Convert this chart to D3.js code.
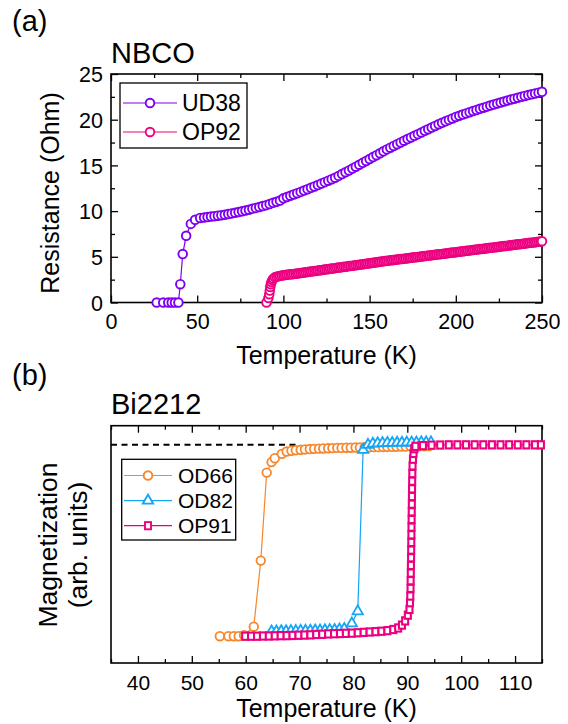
<!DOCTYPE html>
<html>
<head>
<meta charset="utf-8">
<script src="https://cdn.jsdelivr.net/npm/d3@7"></script>
<style>
  body { margin: 0; background: #fff; }
  svg text { font-family: "Liberation Sans", Arial, sans-serif; fill: #000; }
</style>
</head>
<body>
<div id="chart"></div>
<script>
// ---- Panel (a): NBCO resistance, [T (K), R (Ohm)]
const ud38 = [
  [26.5, 0], [30.3, 0], [33.2, 0], [35.2, 0], [37.1, 0], [39.1, 0],
  [40.2, 2.0], [41.6, 5.3], [43.6, 7.3], [46.3, 8.6], [48.8, 9.05], [51.7, 9.25],
  [54, 9.3], [56, 9.35], [58, 9.4], [60, 9.45], [62, 9.5], [64, 9.55], [66, 9.6],
  [68, 9.68], [70, 9.75], [72, 9.82], [74, 9.9], [76, 9.98], [78, 10.06], [80, 10.15],
  [82, 10.25], [84, 10.35], [86, 10.45], [88, 10.55], [90, 10.65], [92, 10.77],
  [94, 10.9], [96, 11.02], [98, 11.15], [100, 11.4], [102, 11.54], [104, 11.68],
  [106, 11.82], [108, 11.96], [110, 12.1], [112, 12.25], [114, 12.4], [116, 12.55],
  [118, 12.7], [120, 12.85], [122, 13.01], [124, 13.17], [126, 13.33], [128, 13.49],
  [130, 13.65], [132, 13.85], [134, 14.05], [136, 14.25], [138, 14.45], [140, 14.65],
  [142, 14.86], [144, 15.07], [146, 15.28], [148, 15.49], [150, 15.7], [152, 15.91],
  [154, 16.12], [156, 16.33], [158, 16.54], [160, 16.75], [162, 16.94], [164, 17.13],
  [166, 17.32], [168, 17.51], [170, 17.7], [172, 17.88], [174, 18.06], [176, 18.24],
  [178, 18.42], [180, 18.6], [182, 18.78], [184, 18.96], [186, 19.14], [188, 19.32],
  [190, 19.5], [192, 19.66], [194, 19.82], [196, 19.98], [198, 20.14], [200, 20.3],
  [202, 20.43], [204, 20.56], [206, 20.69], [208, 20.82], [210, 20.95], [212, 21.07],
  [214, 21.19], [216, 21.31], [218, 21.43], [220, 21.55], [222, 21.66], [224, 21.77],
  [226, 21.88], [228, 21.99], [230, 22.1], [232, 22.2], [234, 22.3], [236, 22.4],
  [238, 22.5], [240, 22.6], [242, 22.69], [244, 22.78], [246, 22.87], [248, 22.96],
  [250, 23.05],
];

const op92 = [
  [90.2, 0], [91.3, 0.5], [91.8, 0.9], [92.1, 1.3], [92.4, 1.7], [92.7, 2.0],
  [93.1, 2.25], [93.6, 2.45], [94.2, 2.6],
  [95, 2.75], [96, 2.82], [97, 2.87], [98, 2.91], [99, 2.95], [100, 2.98],
  [101, 3.0], [102, 3.03], [103, 3.05], [104, 3.08], [105, 3.1], [106, 3.13],
  [107, 3.15], [108, 3.18], [109, 3.2], [110, 3.23], [111, 3.25], [112, 3.28],
  [113, 3.3], [114, 3.33], [115, 3.36], [116, 3.38], [117, 3.41], [118, 3.44],
  [119, 3.46], [120, 3.49], [121, 3.52], [122, 3.54], [123, 3.57], [124, 3.6],
  [125, 3.63], [126, 3.65], [127, 3.68], [128, 3.71], [129, 3.73], [130, 3.76],
  [131, 3.79], [132, 3.82], [133, 3.84], [134, 3.87], [135, 3.9], [136, 3.92],
  [137, 3.95], [138, 3.98], [139, 4.0], [140, 4.03], [141, 4.06], [142, 4.08],
  [143, 4.11], [144, 4.14], [145, 4.16], [146, 4.19], [147, 4.22], [148, 4.24],
  [149, 4.27], [150, 4.3], [151, 4.32], [152, 4.35], [153, 4.38], [154, 4.4],
  [155, 4.43], [156, 4.46], [157, 4.48], [158, 4.51], [159, 4.53], [160, 4.56],
  [161, 4.58], [162, 4.61], [163, 4.63], [164, 4.65], [165, 4.68], [166, 4.7],
  [167, 4.73], [168, 4.75], [169, 4.77], [170, 4.8], [171, 4.82], [172, 4.84],
  [173, 4.87], [174, 4.89], [175, 4.92], [176, 4.94], [177, 4.96], [178, 4.99],
  [179, 5.01], [180, 5.03], [181, 5.06], [182, 5.08], [183, 5.1], [184, 5.13],
  [185, 5.15], [186, 5.18], [187, 5.2], [188, 5.22], [189, 5.25], [190, 5.27],
  [191, 5.29], [192, 5.32], [193, 5.34], [194, 5.36], [195, 5.39], [196, 5.41],
  [197, 5.44], [198, 5.46], [199, 5.48], [200, 5.51], [201, 5.53], [202, 5.55],
  [203, 5.58], [204, 5.6], [205, 5.62], [206, 5.65], [207, 5.67], [208, 5.7],
  [209, 5.72], [210, 5.74], [211, 5.77], [212, 5.79], [213, 5.81], [214, 5.84],
  [215, 5.86], [216, 5.89], [217, 5.91], [218, 5.93], [219, 5.96], [220, 5.98],
  [221, 6.0], [222, 6.03], [223, 6.05], [224, 6.08], [225, 6.1], [226, 6.12],
  [227, 6.15], [228, 6.17], [229, 6.19], [230, 6.22], [231, 6.24], [232, 6.27],
  [233, 6.29], [234, 6.31], [235, 6.34], [236, 6.36], [237, 6.38], [238, 6.41],
  [239, 6.43], [240, 6.46], [241, 6.48], [242, 6.5], [243, 6.53], [244, 6.55],
  [245, 6.57], [246, 6.6], [247, 6.62], [248, 6.65], [249, 6.67], [250, 6.7],
];

// ---- Panel (b): Bi2212 magnetization, [T (K), M (normalised)]
const od66 = [
  [55.2, -1.0], [56.8, -1.0], [57.8, -1.0], [58.7, -1.0], [59.7, -0.995],
  [61.5, -0.95], [62.8, -0.605], [63.9, -0.145], [64.8, -0.09], [65.4, -0.07],
  [66.7, -0.047], [67.6, -0.035], [68.5, -0.031], [69.3, -0.028], [70.2, -0.026],
  [71.0, -0.024], [71.9, -0.022], [72.7, -0.021], [73.6, -0.02], [74.4, -0.019],
  [75.3, -0.018], [76.1, -0.017], [77.0, -0.016], [77.8, -0.016], [78.7, -0.015],
  [79.5, -0.015], [80.4, -0.014], [81.2, -0.014], [82.1, -0.013], [82.9, -0.013],
  [83.8, -0.012], [84.6, -0.012], [85.5, -0.011], [86.3, -0.011], [87.2, -0.01],
  [88.0, -0.01], [88.9, -0.009], [89.7, -0.009], [90.6, -0.008], [91.4, -0.008],
  [92.3, -0.007], [93.1, -0.007], [94.0, -0.006],
];

const od82 = [
  [64.8, -0.975], [65.7, -0.975], [66.6, -0.974], [67.5, -0.974], [68.4, -0.973],
  [69.3, -0.973], [70.2, -0.972], [71.1, -0.972], [72.0, -0.971], [72.9, -0.97],
  [73.8, -0.97], [74.7, -0.969], [75.6, -0.968], [76.5, -0.967], [77.4, -0.965],
  [78.3, -0.962], [79.7, -0.933], [80.8, -0.87], [81.8, -0.026], [82.7, 0.0],
  [83.6, 0.006], [84.5, 0.008], [85.4, 0.009], [86.3, 0.01], [87.2, 0.01],
  [88.1, 0.011], [89.0, 0.011], [89.9, 0.012], [90.8, 0.012], [91.7, 0.012],
  [92.6, 0.013], [93.5, 0.013], [94.4, 0.013],
];

const op91 = [
  [59.9, -1.0], [61.0, -1.0], [62.1, -1.0], [63.2, -0.999], [64.3, -0.999],
  [65.4, -0.998], [66.5, -0.997], [67.6, -0.997], [68.7, -0.996], [69.8, -0.995],
  [70.9, -0.994], [72.0, -0.993], [73.1, -0.991], [74.2, -0.99], [75.3, -0.988],
  [76.4, -0.987], [77.5, -0.986], [78.6, -0.985], [79.7, -0.984], [80.8, -0.982],
  [81.9, -0.98], [83.0, -0.978], [84.1, -0.976], [85.2, -0.974], [86.3, -0.971],
  [87.4, -0.965], [88.3, -0.957], [89.0, -0.942], [89.6, -0.92], [90.1, -0.89],
  [90.4, -0.86], [90.5, -0.825], [90.55, -0.79], [90.6, -0.75], [90.62, -0.71],
  [90.65, -0.67], [90.67, -0.63], [90.7, -0.59], [90.72, -0.55], [90.74, -0.51],
  [90.76, -0.47], [90.78, -0.43], [90.8, -0.39], [90.82, -0.35], [90.84, -0.31],
  [90.86, -0.27], [90.88, -0.23], [90.9, -0.19], [90.93, -0.15], [90.97, -0.11],
  [91.05, -0.075], [91.15, -0.045], [91.3, -0.02], [91.5, -0.008], [92.9, -0.004],
  [94.5, -0.002], [96.1, -0.001], [97.7, 0], [99.3, 0], [100.9, 0], [102.5, 0],
  [104.1, 0], [105.7, 0], [107.3, 0], [108.9, 0], [110.5, 0], [112.1, 0],
  [113.7, 0], [114.8, 0],
];

// normal-state reference line
const refLine = [[35, 0], [70, 0]];

const xTicksA = [0, 50, 100, 150, 200, 250];
const xMinorA = [25, 75, 125, 175, 225];
const yTicksA = [0, 5, 10, 15, 20, 25];
const yMinorA = [2.5, 7.5, 12.5, 17.5, 22.5];
const xTicksB = [40, 50, 60, 70, 80, 90, 100, 110];
const xMinorB = [35, 45, 55, 65, 75, 85, 95, 105, 115];

const colors = {
  UD38: '#7f00f0', OP92: '#ec0080', OD66: '#f5872d', OD82: '#14a5f5', OP91: '#ec0080',
};

const W = 568;
const H = 724;
const svg = d3.select('#chart').append('svg')
  .attr('width', W)
  .attr('height', H);

/**
 * Draws the box and the inward ticks of one panel.
 */
function drawFrame(x, y, opt) {
  const [x0, x1] = x.range();
  const [y0, y1] = y.range(); // y0 bottom, y1 top
  const g = svg.append('g');

  // bottom, labelled
  const bottom = g.append('g').attr('transform', `translate(0,${y0})`)
    .call(d3.axisBottom(x).tickValues(opt.xTicks).tickSize(-7).tickSizeOuter(0));
  g.append('g').attr('transform', `translate(0,${y0})`)
    .call(d3.axisBottom(x).tickValues(opt.xMinor).tickSize(-4).tickSizeOuter(0)
      .tickFormat(''));
  // top, mirrored ticks
  g.append('g').attr('transform', `translate(0,${y1})`)
    .call(d3.axisTop(x).tickValues(opt.xTicks).tickSize(-7).tickSizeOuter(0).tickFormat(''));
  g.append('g').attr('transform', `translate(0,${y1})`)
    .call(d3.axisTop(x).tickValues(opt.xMinor).tickSize(-4).tickSizeOuter(0).tickFormat(''));
  // baseline of the tick labels below the axis
  bottom.selectAll('.tick text')
    .attr('y', opt.xBase).attr('dy', null)
    .style('font-size', `${opt.tickFont}px`);

  if (opt.yTicks) {
    const left = g.append('g').attr('transform', `translate(${x0},0)`)
      .call(d3.axisLeft(y).tickValues(opt.yTicks).tickSize(-7).tickSizeOuter(0).tickPadding(8));
    g.append('g').attr('transform', `translate(${x0},0)`)
      .call(d3.axisLeft(y).tickValues(opt.yMinor).tickSize(-4).tickSizeOuter(0).tickFormat(''));
    g.append('g').attr('transform', `translate(${x1},0)`)
      .call(d3.axisRight(y).tickValues(opt.yTicks).tickSize(-7).tickSizeOuter(0).tickFormat(''));
    g.append('g').attr('transform', `translate(${x1},0)`)
      .call(d3.axisRight(y).tickValues(opt.yMinor).tickSize(-4).tickSizeOuter(0).tickFormat(''));
    left.selectAll('.tick text')
      .attr('dy', '0.36em')
      .style('font-size', `${opt.tickFont}px`);
  }

  g.selectAll('.domain').remove();
  g.selectAll('.tick line').attr('stroke', '#000').attr('stroke-width', 1.3);
  g.selectAll('.tick text').attr('fill', '#000').style('font-family', '"Liberation Sans", Arial, sans-serif');

  g.append('rect')
    .attr('x', x0).attr('y', y1)
    .attr('width', x1 - x0).attr('height', y0 - y1)
    .attr('fill', 'none').attr('stroke', '#000').attr('stroke-width', 1.6);
}

// marker builders
const circleMark = (r) => (sel) => sel.append('circle').attr('r', r);
const triMark = (sel) => sel.append('path').attr('d', d3.symbol(d3.symbolTriangle, 46)());
const squareMark = (sel) => sel.append('rect')
  .attr('x', -3).attr('y', -3.6).attr('width', 6).attr('height', 7.2);

function drawSeries(data, x, y, color, mark, strokeW) {
  const g = svg.append('g');
  g.append('path')
    .datum(data)
    .attr('fill', 'none')
    .attr('stroke', color)
    .attr('stroke-width', 1.2)
    .attr('d', d3.line().x((d) => x(d[0])).y((d) => y(d[1])));
  g.selectAll('g.pt')
    .data(data)
    .join('g')
    .attr('class', 'pt')
    .attr('transform', (d) => `translate(${x(d[0])},${y(d[1])})`)
    .call(mark)
    .selectAll('*')
    .attr('fill', '#fff')
    .attr('stroke', color)
    .attr('stroke-width', strokeW);
}

function addText(txt, xPos, yPos, size, opt = {}) {
  const rot = opt.rotate ? ' rotate(-90)' : '';
  return svg.append('text')
    .attr('transform', `translate(${xPos},${yPos})${rot}`)
    .attr('text-anchor', opt.anchor || 'start')
    .style('font-size', `${size}px`)
    .text(txt);
}

function drawLegend(box, rows, marks, strokeW) {
  const g = svg.append('g');
  g.append('rect')
    .attr('x', box.x).attr('y', box.y).attr('width', box.w).attr('height', box.h)
    .attr('fill', '#fff').attr('stroke', '#000').attr('stroke-width', 1.3);
  rows.forEach((row, i) => {
    const cy = box.row0 + i * box.step;
    g.append('line')
      .attr('x1', box.lx0).attr('x2', box.lx1).attr('y1', cy).attr('y2', cy)
      .attr('stroke', colors[row]).attr('stroke-width', 1.2);
    g.append('g').attr('transform', `translate(${(box.lx0 + box.lx1) / 2},${cy})`)
      .call(marks[i])
      .selectAll('*')
      .attr('fill', '#fff').attr('stroke', colors[row]).attr('stroke-width', strokeW);
    addText(row, box.tx, cy + 0.36 * box.font, box.font);
  });
}

// ---------------- Panel (a)
const xA = d3.scaleLinear().domain([0, 250]).range([111, 542]);
const yA = d3.scaleLinear().domain([0, 25]).range([302.5, 74]);

drawFrame(xA, yA, {
  xTicks: xTicksA, xMinor: xMinorA, yTicks: yTicksA, yMinor: yMinorA, xBase: 26, tickFont: 21.5,
});
drawSeries(ud38, xA, yA, colors.UD38, circleMark(4.3), 1.9);
drawSeries(op92, xA, yA, colors.OP92, circleMark(4.3), 1.9);
drawLegend({
  x: 120, y: 83, w: 127, h: 65, row0: 103, step: 29, lx0: 123, lx1: 177, tx: 182, font: 23,
}, ['UD38', 'OP92'], [circleMark(4.3), circleMark(4.3)], 1.9);

addText('(a)', 12, 31, 29);
addText('NBCO', 111, 63, 29);
addText('Temperature (K)', 326.5, 364, 25, { anchor: 'middle' });
addText('Resistance (Ohm)', 59, 193, 25, { anchor: 'middle', rotate: true });

// ---------------- Panel (b)
const xB = d3.scaleLinear().domain([35, 115]).range([111, 542]);
const yB = d3.scaleLinear().domain([-1.14, 0.1]).range([663, 425.7]);

drawFrame(xB, yB, { xTicks: xTicksB, xMinor: xMinorB, xBase: 27, tickFont: 21 });

svg.append('path')
  .datum(refLine)
  .attr('fill', 'none')
  .attr('stroke', '#000')
  .attr('stroke-width', 2)
  .attr('stroke-dasharray', '6,4.5')
  .attr('d', d3.line().x((d) => xB(d[0])).y((d) => yB(d[1])));

drawSeries(od66, xB, yB, colors.OD66, circleMark(4.3), 1.8);
drawSeries(od82, xB, yB, colors.OD82, triMark, 1.8);
drawSeries(op91, xB, yB, colors.OP91, squareMark, 2.1);
drawLegend({
  x: 121.7, y: 459.3, w: 114, h: 80.7, row0: 475.5, step: 25.1, lx0: 124, lx1: 172, tx: 178, font: 21,
}, ['OD66', 'OD82', 'OP91'], [circleMark(4.3), triMark, squareMark], 1.9);

addText('(b)', 12, 385, 29);
addText('Bi2212', 111, 414, 29);
addText('Temperature (K)', 326.5, 717, 25, { anchor: 'middle' });
addText('Magnetization', 57, 545, 26.5, { anchor: 'middle', rotate: true });
addText('(arb. units)', 87, 545, 26.5, { anchor: 'middle', rotate: true });
</script>
</body>
</html>
